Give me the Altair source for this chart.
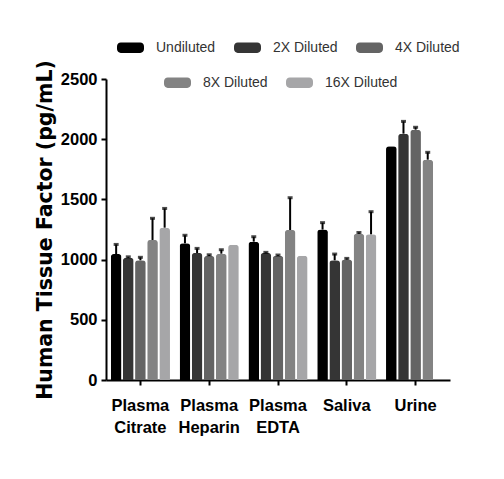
import altair as alt
import pandas as pd

categories = ["Plasma\nCitrate", "Plasma\nHeparin", "Plasma\nEDTA", "Saliva", "Urine"]
series = ["Undiluted", "2X Diluted", "4X Diluted", "8X Diluted", "16X Diluted"]
colors = ["#000000", "#353535", "#646464", "#838383", "#a6a6a8"]

undiluted = [1046, 1135, 1149, 1249, 1941]
undiluted_err = [80, 67, 41, 58, 0]
x2 = [1015, 1055, 1055, 994, 2046]
x2_err = [8, 38, 5, 52, 102]
x4 = [994, 1030, 1033, 1000, 2079]
x4_err = [25, 10, 5, 10, 20]
x8 = [1163, 1049, 1246, 1215, 1830]
x8_err = [180, 33, 268, 10, 61]
x16 = [1265, 1124, 1033, 1210, None]
x16_err = [160, 0, 0, 188, 0]

vals = [undiluted, x2, x4, x8, x16]
errs = [undiluted_err, x2_err, x4_err, x8_err, x16_err]

rows = []
for s, v, e in zip(series, vals, errs):
    for c, vv, ee in zip(categories, v, e):
        if vv is None:
            continue
        rows.append({"cat": c, "series": s, "value": vv, "err": ee, "top": vv + ee})
df = pd.DataFrame(rows)

groupA = series[:3]
groupB = series[3:]
dfA = df[df.series.isin(groupA)]
dfB = df[df.series.isin(groupB)]
dfE = df[df.err > 0]

symbol = ("M-0.72,-0.38 H0.72 A0.28,0.28 0 0 1 1,-0.1 V0.1 A0.28,0.28 0 0 1 0.72,0.38 "
          "H-0.72 A0.28,0.28 0 0 1 -1,0.1 V-0.1 A0.28,0.28 0 0 1 -0.72,-0.38 Z")

xenc = alt.X("cat:N", sort=categories, title=None,
             scale=alt.Scale(paddingInner=0.14, paddingOuter=0.07),
             axis=alt.Axis(labelAngle=0, labelExpr="split(datum.label, '\\n')",
                           labelFont="Liberation Sans", labelFontWeight="bold",
                           labelFontSize=16.5, labelColor="#000", labelPadding=12,
                           labelLineHeight=22, labelBaseline="top",
                           tickSize=5, tickWidth=2, tickColor="#000",
                           domainWidth=2, domainColor="#000"))
xoff = alt.XOffset("series:N", sort=series,
                   scale=alt.Scale(domain=series, paddingInner=0.12))
yenc = alt.Y("value:Q", title="Human Tissue Factor (pg/mL)",
             scale=alt.Scale(domain=[0, 2500], nice=False),
             axis=alt.Axis(values=[0, 500, 1000, 1500, 2000, 2500], format="d",
                           labelFont="Liberation Sans", labelFontWeight="bold",
                           labelFontSize=16.5, labelColor="#000", labelPadding=4,
                           tickSize=5, tickWidth=2, tickColor="#000",
                           domainWidth=2, domainColor="#000",
                           titleFont="DejaVu Sans", titleFontWeight="bold",
                           titleFontSize=20.5, titleColor="#000", titlePadding=5,
                           grid=False))


def legend(x, y):
    return alt.Legend(orient="none", legendX=x, legendY=y, direction="horizontal",
                      title=None, symbolType=symbol, symbolSize=729,
                      symbolStrokeWidth=0, labelFont="Liberation Sans",
                      labelFontSize=14, labelColor="#333", labelOffset=12,
                      columnPadding=18, symbolOpacity=1)


barsA = alt.Chart(dfA).mark_bar(cornerRadiusEnd=3).encode(
    x=xenc, xOffset=xoff, y=yenc,
    color=alt.Color("series:N", sort=groupA,
                    scale=alt.Scale(domain=groupA, range=colors[:3]),
                    legend=legend(11, -45)),
)
barsB = alt.Chart(dfB).mark_bar(cornerRadiusEnd=3).encode(
    x=xenc, xOffset=xoff, y=yenc,
    color=alt.Color("series:N", sort=groupB,
                    scale=alt.Scale(domain=groupB, range=colors[3:]),
                    legend=legend(58, -10)),
)
rules = alt.Chart(dfE).mark_rule(color="#000", strokeWidth=2).encode(
    x=xenc, xOffset=xoff, y=alt.Y("value:Q"), y2="top:Q",
)
caps = alt.Chart(dfE).mark_tick(color="#000", thickness=3, size=5).encode(
    x=xenc, xOffset=xoff, y=alt.Y("top:Q"),
)

chart = alt.layer(barsA, barsB, rules, caps).resolve_scale(color="independent").properties(
    width=344, height=301,
    autosize=alt.AutoSizeParams(type="none"),
    padding={"left": 98, "top": 71, "right": 40, "bottom": 80},
    background="white",
).configure_view(stroke=None)

chart.save("out.html", embed_options={"renderer": "svg", "actions": False})
